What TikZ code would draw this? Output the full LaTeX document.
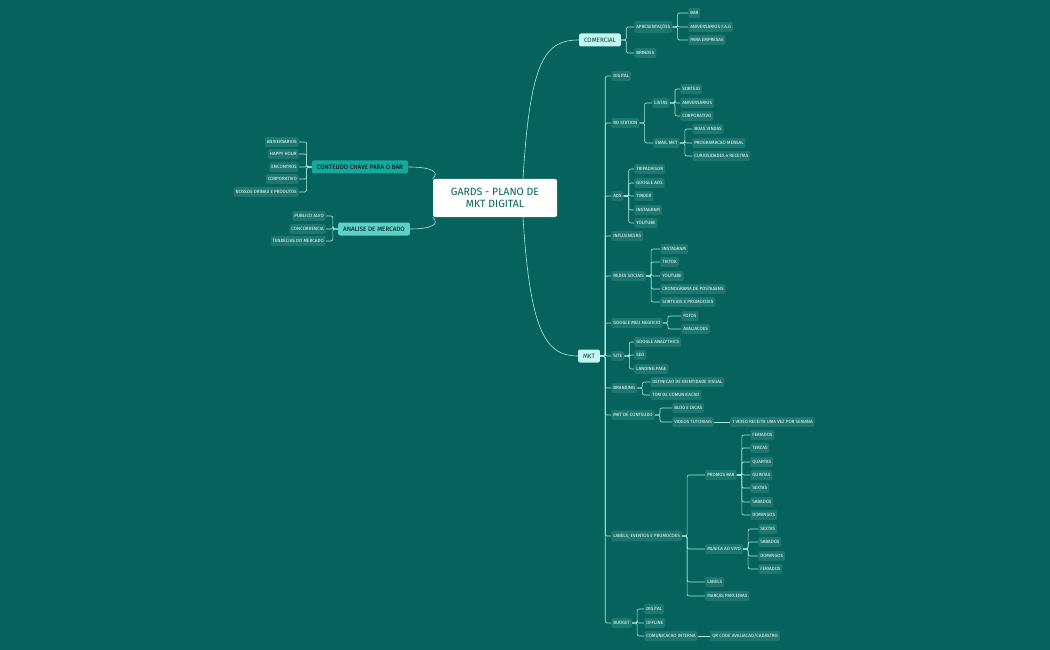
\documentclass[tikz,border=0pt]{standalone}
\usepackage{fontspec}
\setmainfont{Fira Sans}
\definecolor{bg}{HTML}{05625C}
\definecolor{leaffill}{HTML}{1C7770}
\definecolor{wire}{HTML}{A6EDE4}
\definecolor{mainfill}{HTML}{C4F6F1}
\definecolor{leftfill}{HTML}{15A99D}
\definecolor{leftfill2}{HTML}{5CD3C8}
\begin{document}
\begin{tikzpicture}[x = 1pt, y = -1pt, line width = 0.6pt,
	leaf/.style = {anchor = west, fill = leaffill, text = white, rounded corners = 1.5pt,
		font = \fontsize{4.6pt}{5pt}\selectfont, inner xsep = 2pt, minimum height = 9pt},
	leafl/.style = {leaf, anchor = east},
	branch/.style = {fill = mainfill, text = bg!70!black, rounded corners = 2pt,
		font = \fontsize{6.3pt}{7pt}\selectfont, inner xsep = 5pt, minimum height = 13pt},
	link/.style = {draw = wire, rounded corners = 2pt,
		to path = {-- ++(5,0) |- (\tikztotarget)}},
	linkl/.style = {draw = wire, rounded corners = 2pt,
		to path = {-- ++(-5,0) |- (\tikztotarget)}}]
	\fill [bg] (0, 0) rectangle (1050, 650);
	\useasboundingbox (0, 0) rectangle (1050, 650);

	% Zentrum
	\node [fill = white, rounded corners = 2pt, text = bg, align = center, minimum width = 124pt,
		minimum height = 38pt, font = \fontsize{10.5pt}{12pt}\selectfont] (root) at (495, 198)
		{GARDS - PLANO DE\\MKT DIGITAL};
	\node [branch] (comercial) at (600, 40) {COMERCIAL};
	\node [branch] (mkt) at (589, 356) {MKT};
	\node [branch, fill = leftfill, text = black] (conteudo) at (360, 167) {CONTEUDO CHAVE PARA O BAR};
	\node [branch, fill = leftfill2, text = black] (analise) at (374, 229) {ANALISE DE MERCADO};
	\coordinate (rtop) at (523, 179);
	\coordinate (rbot) at (523, 217);
	\draw [wire] (rtop) .. controls (530, 60) and (545, 40) .. (comercial.west);
	\draw [wire] (rbot) .. controls (530, 330) and (545, 356) .. (mkt.west);
	\draw [wire] (conteudo.east) .. controls (432, 167) and (440, 172) .. (root.north west);
	\draw [wire] (analise.east) .. controls (432, 229) and (440, 224) .. (root.south west);

	% Linke Seite
	\foreach \y/\t [count = \i] in {142/ANIVERSARIOS, 154/HAPPY HOUR, 167/ENCONTROS, 179/CORPORATIVO, 192/NOSSOS DRINKS E PRODUTOS} {
		\node [leafl] (cc-\i) at (299, \y) {\t};
		\draw [linkl] (conteudo.west) to (cc-\i.east);
	}
	\foreach \y/\t [count = \i] in {216/PUBLICO ALVO, 229/CONCORRENCIA, 241/TENDECIAS DO MERCADO} {
		\node [leafl] (am-\i) at (326, \y) {\t};
		\draw [linkl] (analise.west) to (am-\i.east);
	}

	% Comercial
	\node [leaf] (apres) at (634, 27) {APRESENTAÇÕES};
	\node [leaf] (brindes) at (634, 53) {BRINDES};
	\draw [link] (comercial.east) to (apres.west);
	\draw [link] (comercial.east) to (brindes.west);
	\foreach \y/\t [count = \i] in {13/BAR, 27/ANIVERSARIOS F.A.G, 40/PARA EMPRESAS} {
		\node [leaf] (ap-\i) at (688, \y) {\t};
		\draw [link] (apres.east) to (ap-\i.west);
	}

	% MKT
	\foreach \y/\t/\n in {76/DIGITAL/digital, 123/RD STATION/rd, 196/ADS/ads, 236/INFLUENCERS/infl,
		276/REDES SOCIAIS/redes, 323/GOOGLE MEU NEGOCIO/gmn, 356/SITE/site, 388/BRANDING/brand,
		415/MKT DE CONTEUDO/conteudomkt, 536/{LABELS, EVENTOS E PROMOCOES}/labels, 623/BUDGET/budget} {
		\node [leaf] (\n) at (611, \y) {\t};
		\draw [link] (mkt.east) to (\n.west);
	}
	\node [leaf] (listas) at (652, 103) {LISTAS};
	\node [leaf] (email) at (653, 143) {EMAIL MKT};
	\draw [link] (rd.east) to (listas.west);
	\draw [link] (rd.east) to (email.west);
	\foreach \y/\t [count = \i] in {89/SORTEIO, 103/ANIVERSARIOS, 116/CORPORATIVO} {
		\node [leaf] (li-\i) at (680, \y) {\t};
		\draw [link] (listas.east) to (li-\i.west);
	}
	\foreach \y/\t [count = \i] in {129/BOAS VINDAS, 143/PROGRAMACAO MENSAL, 156/CURIOSIDADES e RECEITAS} {
		\node [leaf] (em-\i) at (692, \y) {\t};
		\draw [link] (email.east) to (em-\i.west);
	}
	\foreach \y/\t [count = \i] in {169/TRIPADVISOR, 183/GOOGLE ADS, 196/TINDER, 210/INSTAGRAM, 223/YOUTUBE} {
		\node [leaf] (ad-\i) at (634, \y) {\t};
		\draw [link] (ads.east) to (ad-\i.west);
	}
	\foreach \y/\t [count = \i] in {249/INSTAGRAM, 262/TIKTOK, 276/YOUTUBE, 289/CRONOGRAMA DE POSTAGENS, 302/SORTEIOS E PROMOCOES} {
		\node [leaf] (rs-\i) at (660, \y) {\t};
		\draw [link] (redes.east) to (rs-\i.west);
	}
	\foreach \y/\t [count = \i] in {316/FOTOS, 329/AVALIACOES} {
		\node [leaf] (gm-\i) at (681, \y) {\t};
		\draw [link] (gmn.east) to (gm-\i.west);
	}
	\foreach \y/\t [count = \i] in {342/GOOGLE ANALYTHICS, 355/SEO, 369/LANDING PAGE} {
		\node [leaf] (si-\i) at (634, \y) {\t};
		\draw [link] (site.east) to (si-\i.west);
	}
	\foreach \y/\t [count = \i] in {382/DEFINICAO DE IDENTIDADE VISUAL, 395/TOM DE COMUNICACAO} {
		\node [leaf] (br-\i) at (650, \y) {\t};
		\draw [link] (brand.east) to (br-\i.west);
	}
	\node [leaf] (blog) at (672, 408) {BLOG E DICAS};
	\node [leaf] (videos) at (672, 422) {VIDEOS TUTORIAIS};
	\node [leaf] (receita) at (730, 422) {1 VIDEO RECEITA UMA VEZ POR SEMANA};
	\draw [link] (conteudomkt.east) to (blog.west);
	\draw [link] (conteudomkt.east) to (videos.west);
	\draw [wire] (videos.east) -- (receita.west);

	% Labels, Eventos e Promocoes
	\foreach \y/\t/\n in {475/PROMOS BAR/promos, 549/MUSICA AO VIVO/musica, 582/LABELS/lab, 596/MARCAS PARCEIRAS/marcas} {
		\node [leaf] (\n) at (705, \y) {\t};
		\draw [link] (labels.east) to (\n.west);
	}
	\foreach \y/\t [count = \i] in {435/FERIADOS, 448/TERCAS, 462/QUARTAS, 475/QUINTAS, 488/SEXTAS, 502/SABADOS, 515/DOMINGOS} {
		\node [leaf] (pb-\i) at (750, \y) {\t};
		\draw [link] (promos.east) to (pb-\i.west);
	}
	\foreach \y/\t [count = \i] in {529/SEXTAS, 542/SABADOS, 556/DOMINGOS, 569/FERIADOS} {
		\node [leaf] (mv-\i) at (758, \y) {\t};
		\draw [link] (musica.east) to (mv-\i.west);
	}

	% Budget
	\foreach \y/\t/\n in {609/DIGITAL/bdigital, 623/OFFLINE/boffline, 636/COMUNICACAO INTERNA/bcom} {
		\node [leaf] (\n) at (644, \y) {\t};
		\draw [link] (budget.east) to (\n.west);
	}
	\node [leaf] (qr) at (710, 636) {QR CODE AVALIACAO/CADASTRO};
	\draw [wire] (bcom.east) -- (qr.west);
\end{tikzpicture}
\end{document}
